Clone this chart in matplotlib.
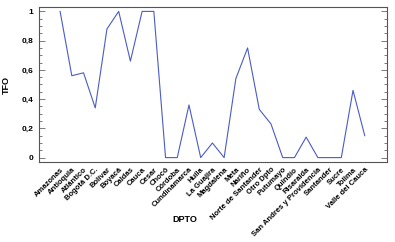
import matplotlib.pyplot as plt
import numpy as np
from matplotlib.ticker import MultipleLocator, FuncFormatter

dptos = ['Amazonas', 'Antioquia', 'Atlántico', 'Bogotá D.C.', 'Bolívar',
         'Boyacá', 'Caldas', 'Cauca', 'Cesar', 'Chocó', 'Córdoba',
         'Cundinamarca', 'Huila', 'La Guajira', 'Magdalena', 'Meta',
         'Nariño', 'Norte de Santander', 'Otro Dpto', 'Putumayo', 'Quindío',
         'Risaralda', 'San Andres y Providencia', 'Santander', 'Sucre',
         'Tolima', 'Valle del Cauca']
tfo = [1.0, 0.56, 0.58, 0.34, 0.88, 1.0, 0.66, 1.0, 1.0, 0.0, 0.0,
       0.36, 0.0, 0.10, 0.0, 0.54, 0.75, 0.33, 0.23, 0.0, 0.0,
       0.14, 0.0, 0.0, 0.0, 0.46, 0.15]

plt.rcParams['font.family'] = ['Liberation Sans', 'DejaVu Sans']

fig = plt.figure(figsize=(3.95, 2.42), dpi=100)
ax = fig.add_axes([39 / 395, 80 / 242, 348 / 395, 155 / 242])

x = np.arange(len(dptos))
ax.plot(x, tfo, color='#4a5cc4', lw=0.8)

ax.set_xlim(-1.8, 27.9)
ax.set_ylim(-0.03, 1.03)

ax.yaxis.set_major_locator(MultipleLocator(0.2))
ax.yaxis.set_minor_locator(MultipleLocator(0.05))
ax.yaxis.set_major_formatter(FuncFormatter(
    lambda v, p: ('%g' % round(v, 2)).replace('.', ',')))
ax.tick_params(axis='y', which='both', direction='in', left=True, right=True,
               colors='#666666', labelcolor='black', labelsize=6, pad=4)
ax.tick_params(axis='y', which='major', length=4.3, width=0.6)
ax.tick_params(axis='y', which='minor', length=2.2, width=0.6)
for lab in ax.get_yticklabels():
    lab.set_fontweight('bold')

ax.set_xticks(x)
ax.set_xticklabels(dptos, rotation=45, ha='right', rotation_mode='anchor',
                   fontsize=5.5, fontweight='bold')
ax.tick_params(axis='x', length=0, pad=3)

for s in ax.spines.values():
    s.set_color('#555555')
    s.set_linewidth(0.8)

ax.set_ylabel('TFO', fontsize=6.5, fontweight='bold', labelpad=8)
fig.text(185 / 395, 1 - 220 / 242, 'DPTO', fontsize=6.5, fontweight='bold',
         ha='center', va='center')

fig.savefig('out.png', dpi=100)
